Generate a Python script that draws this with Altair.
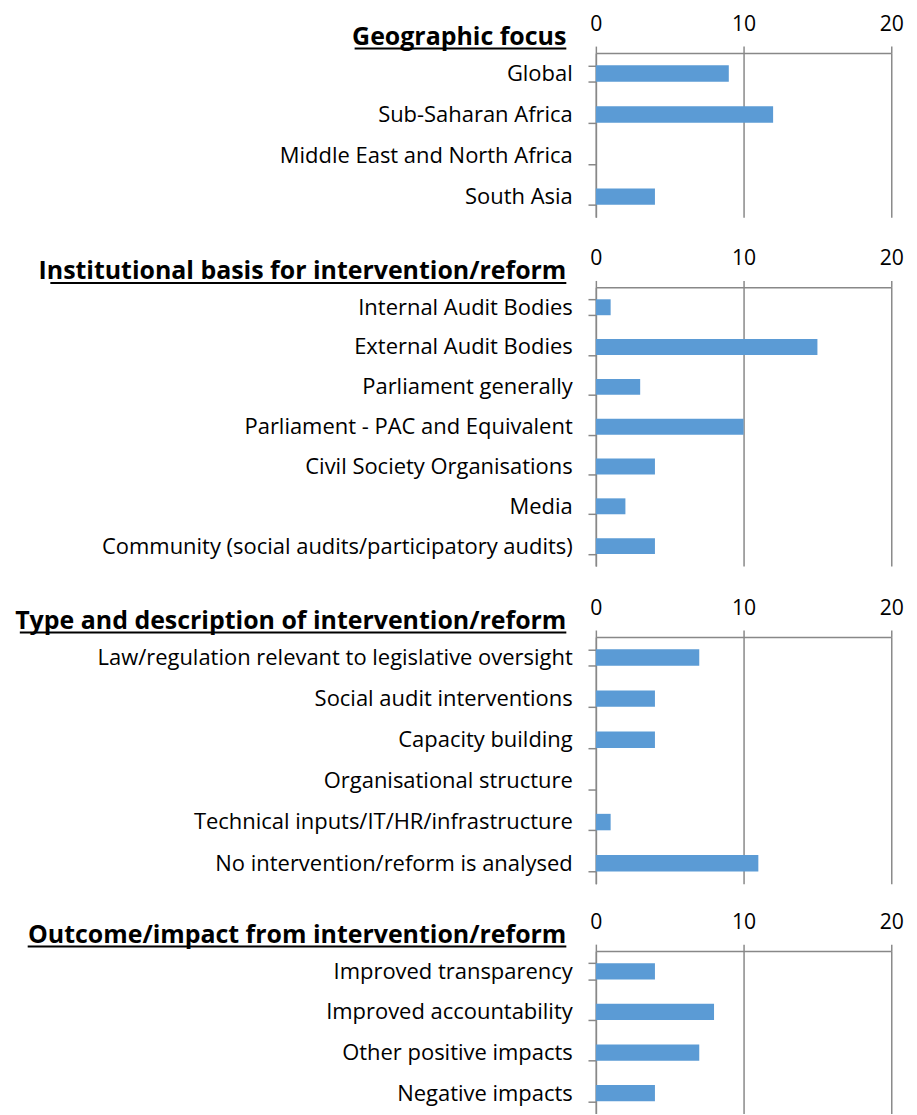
import altair as alt
import pandas as pd

FONT = "Open Sans"
BAR_COLOR = "#5B9BD5"
LINE_COLOR = "#888888"

titles = [
    "Geographic focus",
    "Institutional basis for intervention/reform",
    "Type and description of intervention/reform",
    "Outcome/impact from intervention/reform",
]

geo_cats = ["Global", "Sub-Saharan Africa", "Middle East and North Africa", "South Asia"]
geo_vals = [9, 12, 0, 4]

inst_cats = [
    "Internal Audit Bodies",
    "External Audit Bodies",
    "Parliament generally",
    "Parliament - PAC and Equivalent",
    "Civil Society Organisations",
    "Media",
    "Community (social audits/participatory audits)",
]
inst_vals = [1, 15, 3, 10, 4, 2, 4]

type_cats = [
    "Law/regulation relevant to legislative oversight",
    "Social audit interventions",
    "Capacity building",
    "Organisational structure",
    "Technical inputs/IT/HR/infrastructure",
    "No intervention/reform is analysed",
]
type_vals = [7, 4, 4, 0, 1, 11]

out_cats = ["Improved transparency", "Improved accountability", "Other positive impacts", "Negative impacts"]
out_vals = [4, 8, 7, 4]

x_ticks = [0, 10, 20]

# layout (pixels)
heights = [166.7, 283, 250.7, 165]
title_widths = [215, 524, 555, 547]
extra_bottom = [3, 4, 0, 0]


def panel(title, cats, vals, height, title_w, extra):
    df = pd.DataFrame({"category": cats, "count": vals})
    bars = alt.Chart(df).mark_bar(color=BAR_COLOR).encode(
        y=alt.Y(
            "category:N",
            sort=cats,
            scale=alt.Scale(paddingInner=0.6, paddingOuter=0.3),
            axis=alt.Axis(
                title=None,
                tickBand="extent",
                tickSize=8,
                labelPadding=16,
                labelLimit=800,
                labelFontSize=22.3,
                grid=False,
            ),
        ),
        x=alt.X(
            "count:Q",
            scale=alt.Scale(domain=[0, 20], nice=False),
            axis=alt.Axis(
                orient="top",
                values=x_ticks,
                title=None,
                grid=True,
                tickSize=7,
                labelPadding=11,
                labelFontSize=21.5,
                labelFlush=False,
            ),
        ),
    )
    tdf = pd.DataFrame({"t": [title]})
    ttl = alt.Chart(tdf).mark_text(
        align="right",
        baseline="alphabetic",
        font=FONT,
        fontSize=25.3,
        fontWeight="bold",
        color="black",
    ).encode(x=alt.value(-30), y=alt.value(-8.5), text="t:N")
    underline = alt.Chart(tdf).mark_rule(color="black", strokeWidth=2).encode(
        x=alt.value(-30 - title_w), x2=alt.value(-30), y=alt.value(-4.5)
    )
    layers = [bars, ttl, underline]
    if extra > 0:
        spacer = alt.Chart(tdf).mark_rule(opacity=0).encode(
            x=alt.value(0), x2=alt.value(1), y=alt.value(height + extra)
        )
        layers.append(spacer)
    return alt.layer(*layers).properties(width=300, height=height)


panels = [
    panel(titles[0], geo_cats, geo_vals, heights[0], title_widths[0], extra_bottom[0]),
    panel(titles[1], inst_cats, inst_vals, heights[1], title_widths[1], extra_bottom[1]),
    panel(titles[2], type_cats, type_vals, heights[2], title_widths[2], extra_bottom[2]),
    panel(titles[3], out_cats, out_vals, heights[3], title_widths[3], extra_bottom[3]),
]

chart = (
    alt.vconcat(*panels, spacing=28)
    .configure_view(strokeWidth=0)
    .configure_axis(
        labelFont=FONT,
        labelColor="black",
        domainColor=LINE_COLOR,
        tickColor=LINE_COLOR,
        gridColor=LINE_COLOR,
        domainWidth=1.5,
        tickWidth=1.5,
        gridWidth=1.5,
    )
    .properties(background="white", padding={"left": 7, "top": -3, "right": 5, "bottom": 5})
)

chart.save("out.html", embed_options={"renderer": "svg", "actions": False})
